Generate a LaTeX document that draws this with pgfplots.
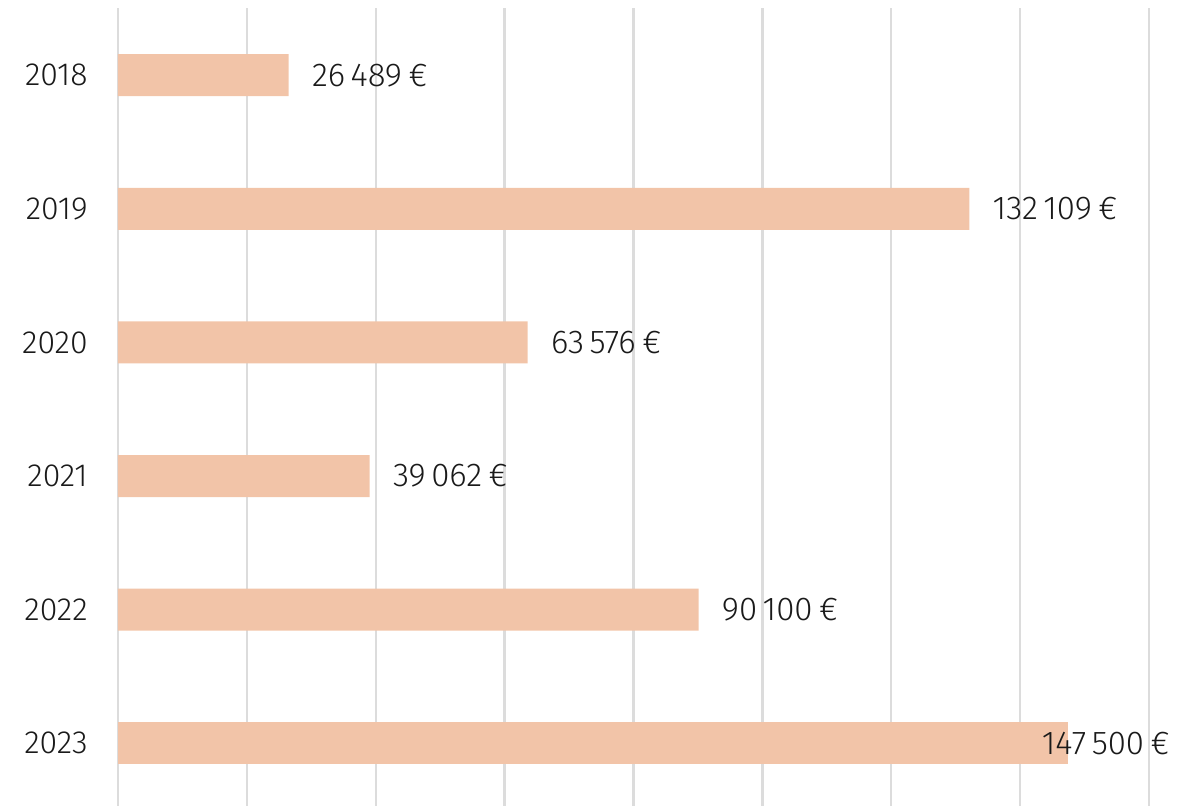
\documentclass[border=0pt]{standalone}
\usepackage{fontspec}
\setmainfont{Fira Sans Light}
\usepackage{pgfplots}
\pgfplotsset{compat=1.18}
\definecolor{barc}{HTML}{F2C4A8}
\definecolor{gridc}{HTML}{DCDCDC}
\definecolor{txt}{HTML}{1A1A1A}
\newcommand{\eur}{\hspace{0.2em}€}
\begin{document}
\begin{tikzpicture}
\begin{axis}[
  scale only axis,
  width=515.5bp, height=400.8bp,
  xmin=0, xmax=160000,
  ymin=-0.5, ymax=5.5, y dir=reverse,
  xtick={0,20000,...,160000}, xticklabels={},
  ytick={0,1,2,3,4,5},
  yticklabels={2018,2019,2020,2021,2022,2023},
  xmajorgrids, major grid style={gridc, line width=1.2bp},
  axis line style={draw=none},
  major tick length=0pt,
  yticklabel style={anchor=east, inner sep=0pt, xshift=-15bp, text=txt, font=\fontsize{16bp}{20bp}\selectfont},
  point meta=explicit symbolic,
  every node near coord/.append style={anchor=west, inner sep=0pt, text=txt, font=\fontsize{16.5bp}{20bp}\selectfont},
  clip=false,
]
\addplot[xbar, bar width=21bp, bar shift=0pt, fill=barc, draw=none,
  nodes near coords, every node near coord/.append style={xshift=11.5bp}]
  coordinates {
  (26489,0) [26\,489\eur]
  (132109,1) [132\,109\eur]
  (63576,2) [63\,576\eur]
  (39062,3) [39\,062\eur]
  (90100,4) [90\,100\eur]
};
\addplot[xbar, bar width=21bp, bar shift=0pt, fill=barc, draw=none,
  nodes near coords, every node near coord/.append style={xshift=-13.5bp}]
  coordinates {
  (147500,5) [147\,500\eur]
};
\end{axis}
\pgfresetboundingbox
\useasboundingbox (-59bp,2bp) rectangle (541bp,405bp);
\end{tikzpicture}
\end{document}
